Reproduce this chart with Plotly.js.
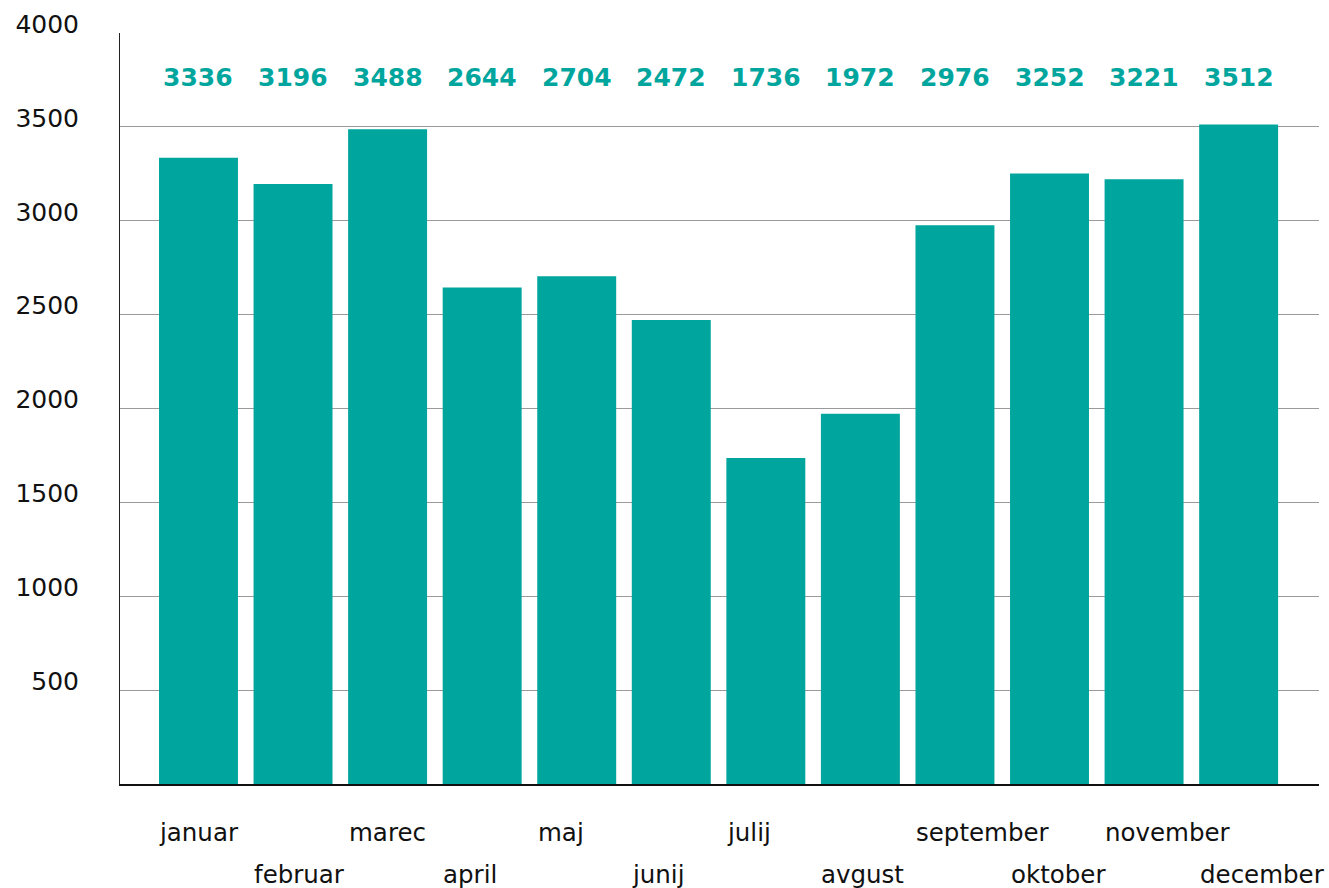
<!DOCTYPE html>
<html>
<head>
<meta charset="utf-8">
<script src="https://cdn.plot.ly/plotly-3.0.1.min.js"></script>
<style>html,body{margin:0;padding:0;background:#fff;}#chart{width:1329px;height:888px;}</style>
</head>
<body>
<div id="chart"></div>
<script>
const months = ["januar","februar","marec","april","maj","junij","julij","avgust","september","oktober","november","december"];
const values = [3336,3196,3488,2644,2704,2472,1736,1972,2976,3252,3221,3512];
const yTicks = [500,1000,1500,2000,2500,3000,3500,4000];

const teal = "#00a69d";
const font = "DejaVu Sans, Liberation Sans, sans-serif";

const annotations = [];
months.forEach((m, i) => {
  annotations.push({
    x: i, xref: "x", y: 0, yref: "paper",
    text: m, showarrow: false,
    xanchor: "left", yanchor: "middle",
    xshift: -41, yshift: (i % 2 === 0) ? -48 : -90,
    font: {family: font, size: 24.5, color: "#111"}
  });
  annotations.push({
    x: i, xref: "x", y: 1, yref: "paper",
    text: "<b>" + values[i] + "</b>", showarrow: false,
    xanchor: "center", yanchor: "middle",
    yshift: -44,
    font: {family: font, size: 25, color: teal}
  });
});

Plotly.newPlot("chart", [{
  type: "bar",
  x: months.map((m, i) => i),
  y: values,
  marker: {color: teal},
  hoverinfo: "skip"
}], {
  width: 1329, height: 888,
  margin: {l: 120, r: 10, t: 33, b: 104},
  paper_bgcolor: "#fff", plot_bgcolor: "#fff",
  bargap: 0.165,
  showlegend: false,
  xaxis: {
    range: [-0.83, 11.85],
    showticklabels: false, ticks: "",
    showgrid: false, zeroline: false,
    showline: true, linecolor: "#111", linewidth: 1.5
  },
  yaxis: {
    range: [0, 4000],
    tickvals: yTicks,
    ticktext: yTicks.map(String),
    ticks: "",
    showgrid: true, gridcolor: "#9a9a9a", gridwidth: 1,
    zeroline: false,
    showline: true, linecolor: "#222", linewidth: 1,
    ticklabelstandoff: 35,
    ticklabelshift: -9,
    tickfont: {family: font, size: 25, color: "#111"}
  },
  annotations: annotations
}, {displayModeBar: false, staticPlot: true});
</script>
</body>
</html>
